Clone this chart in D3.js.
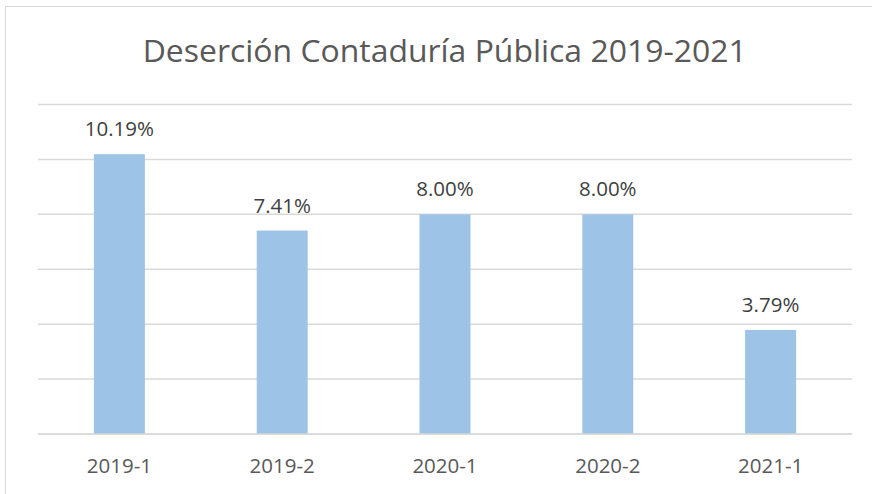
<!DOCTYPE html>
<html><head><meta charset="utf-8">
<script src="https://cdn.jsdelivr.net/npm/d3@7"></script>
<style>body{margin:0;background:#fff}svg{display:block}</style>
</head><body>
<svg id="c" width="872" height="494"></svg>
<script>
const categories = ["2019-1","2019-2","2020-1","2020-2","2021-1"];
const values = [10.19, 7.41, 8.00, 8.00, 3.79];
const yTicks = [0,2,4,6,8,10,12];
const title = "Deserción Contaduría Pública 2019-2021";

(function(){
const svg = d3.select("#c");
const W = 872, H = 494;
svg.append("rect").attr("x",5.5).attr("y",6.5).attr("width",W+10).attr("height",H+10)
  .attr("fill","#fff").attr("stroke","#d9d9d9").attr("stroke-width",1);

const mLeft = 38, mRight = 852, mTop = 104.5, mBottom = 434;
const x = d3.scaleBand().domain(categories).range([mLeft,mRight]).paddingInner(0.687).paddingOuter(0.3435);
const y = d3.scaleLinear().domain([0,12]).range([mBottom, mTop]);

svg.append("g").selectAll("line").data(yTicks).join("line")
  .attr("x1",mLeft).attr("x2",mRight)
  .attr("y1",d=>y(d)).attr("y2",d=>y(d))
  .attr("stroke","#d9d9d9").attr("stroke-width",1.5);

svg.append("g").selectAll("rect").data(values).join("rect")
  .attr("x",(d,i)=>x(categories[i])).attr("width",x.bandwidth())
  .attr("y",d=>y(d)).attr("height",d=>y(0)-y(d))
  .attr("fill","#9dc3e6");

svg.append("line").attr("x1",mLeft).attr("x2",mRight).attr("y1",y(0)).attr("y2",y(0))
  .attr("stroke","#d9d9d9").attr("stroke-width",1.5);

const font = "'Open Sans', 'Noto Sans', sans-serif";
svg.append("g").selectAll("text").data(values).join("text")
  .attr("x",(d,i)=>x(categories[i])+x.bandwidth()/2)
  .attr("y",d=>y(d)-18)
  .attr("text-anchor","middle").attr("font-family",font).attr("font-size",20.5)
  .attr("fill","#404040")
  .text(d=>d.toFixed(2)+"%");

const xAxis = d3.axisBottom(x).tickSize(0).tickPadding(0);
const gx = svg.append("g").attr("transform",`translate(0,${mBottom})`).call(xAxis);
gx.select(".domain").remove();
gx.selectAll("text").attr("font-family",font).attr("font-size",20.5).attr("fill","#595959")
  .attr("dy",null).attr("y",39.3);

svg.append("text").attr("x",444.7).attr("y",61.7).attr("text-anchor","middle")
  .attr("font-family",font).attr("font-size",31.5).attr("fill","#595959")
  .attr("textLength",604).attr("lengthAdjust","spacingAndGlyphs")
  .text(title);
})();
</script>
</body></html>
